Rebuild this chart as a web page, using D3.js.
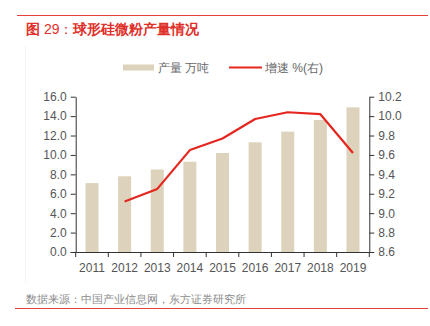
<!DOCTYPE html>
<html><head><meta charset="utf-8">
<script src="https://cdn.jsdelivr.net/npm/d3@7"></script>
<style>body{margin:0;background:#fff}svg{display:block}</style>
</head><body><svg id="c" width="430" height="326"></svg>
<script>
const years = ["2011","2012","2013","2014","2015","2016","2017","2018","2019"];
const output = [7.1, 7.8, 8.5, 9.3, 10.2, 11.3, 12.4, 13.6, 14.9];
const growthYears = ["2012","2013","2014","2015","2016","2017","2018","2019"];
const growth = [9.12, 9.25, 9.65, 9.77, 9.97, 10.04, 10.02, 9.62];
const leftTicks = [0,2,4,6,8,10,12,14,16];
const rightTicks = [8.6,8.8,9.0,9.2,9.4,9.6,9.8,10.0,10.2];

const svg = d3.select("#c");
const font = "'Liberation Sans', Arial, sans-serif";
const red = "#e5261f";
const m = {l:75.7, r:369.3, t:96.7, b:252};

svg.append("line").attr("x1",17).attr("x2",428).attr("y1",15.5).attr("y2",15.5).attr("stroke","#e8403a").attr("stroke-width",1);
svg.append("line").attr("x1",15).attr("x2",428).attr("y1",308.5).attr("y2",308.5).attr("stroke","#e8403a").attr("stroke-width",1);
svg.append("line").attr("x1",25.5).attr("x2",25.5).attr("y1",46).attr("y2",283).attr("stroke","#f3f3f3");

const title = svg.append("text").attr("x",26).attr("y",34).attr("font-family",font).attr("font-size",14).attr("font-weight","bold")
  .attr("fill","#e0302a");
title.append("tspan").text("图 ");
title.append("tspan").attr("font-weight","normal").text("29：");
title.append("tspan").text("球形硅微粉产量情况");
svg.append("text").attr("x",26).attr("y",303).attr("font-family",font).attr("font-size",11).attr("fill","#8a8a8a")
  .text("数据来源：中国产业信息网，东方证券研究所");

const xb = d3.scaleBand().domain(years).range([m.l, m.r]);
const yL = d3.scaleLinear().domain([0,16]).range([m.b, m.t]);
const yR = d3.scaleLinear().domain([8.6,10.2]).range([m.b, m.t]);

svg.append("g").selectAll("rect").data(years).join("rect")
  .attr("x", d => xb(d) + xb.bandwidth()/2 - 6.5).attr("width", 13)
  .attr("y", (d,i) => yL(output[i])).attr("height", (d,i) => m.b - yL(output[i]))
  .attr("fill", "#ddd3bc");

const line = d3.line().x(d => xb(d[0]) + xb.bandwidth()/2).y(d => yR(d[1]));
svg.append("path").datum(growthYears.map((y,i)=>[y,growth[i]])).attr("d", line)
  .attr("fill","none").attr("stroke",red).attr("stroke-width",2.2).attr("stroke-linejoin","round");

function styleAxis(g){
  g.selectAll("path,line").attr("stroke","#333").attr("stroke-width",1);
  g.selectAll("text").attr("font-family",font).attr("font-size",12).attr("fill","#555");
}
svg.append("g").attr("transform",`translate(${m.l},0)`)
  .call(d3.axisLeft(yL).tickValues(leftTicks).tickFormat(d3.format(".1f")).tickSize(5).tickSizeOuter(0).tickPadding(4))
  .call(styleAxis);
svg.append("g").attr("transform",`translate(${m.r},0)`)
  .call(d3.axisRight(yR).tickValues(rightTicks).tickFormat(d3.format(".1f")).tickSize(5).tickSizeOuter(0).tickPadding(4))
  .call(styleAxis);
const gx = svg.append("g").attr("transform",`translate(0,${m.b})`);
gx.append("line").attr("x1",m.l-5).attr("x2",m.r).attr("y1",0.5).attr("y2",0.5).attr("stroke","#333");
gx.selectAll("line.t").data(years.concat(["end"])).join("line").attr("class","t")
  .attr("x1",(d,i)=> m.l + i*xb.step()).attr("x2",(d,i)=> m.l + i*xb.step())
  .attr("y1",0).attr("y2",5).attr("stroke","#333");
gx.selectAll("text").data(years).join("text")
  .attr("x", d => xb(d) + xb.bandwidth()/2).attr("y", 19.5).attr("text-anchor","middle")
  .attr("font-family",font).attr("font-size",12).attr("fill","#555").text(d=>d);

const lg = svg.append("g");
lg.append("rect").attr("x",123).attr("y",64.5).attr("width",31).attr("height",6).attr("fill","#ddd3bc");
lg.append("text").attr("x",158).attr("y",72).attr("font-family",font).attr("font-size",12).attr("fill","#666").text("产量 万吨");
lg.append("line").attr("x1",229).attr("x2",262).attr("y1",67.5).attr("y2",67.5).attr("stroke",red).attr("stroke-width",2.2);
lg.append("text").attr("x",265).attr("y",72).attr("font-family",font).attr("font-size",12).attr("fill","#666").text("增速 %(右)");
</script></body></html>
